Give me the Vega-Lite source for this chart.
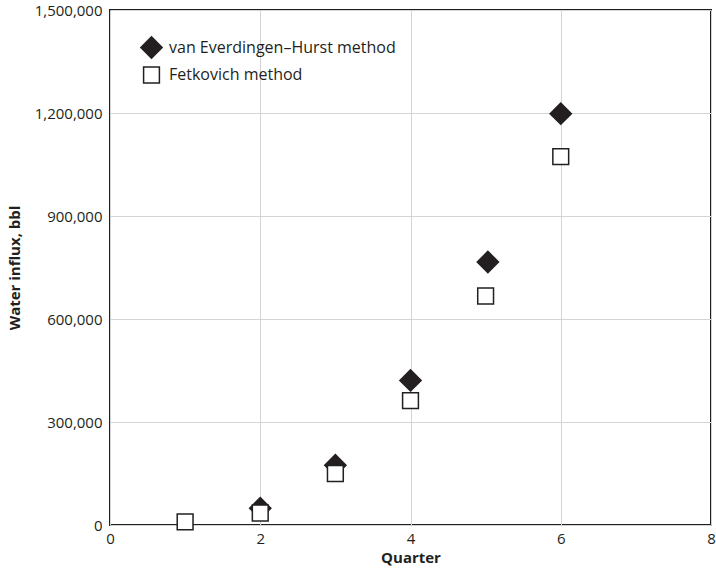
{
  "$schema": "https://vega.github.io/schema/vega-lite/v6.json",
  "width": 601,
  "height": 515,
  "autosize": {"type": "none"},
  "padding": {"left": 110, "top": 10, "right": 5, "bottom": 47},
  "background": "white",
  "config": {
    "font": "Open Sans",
    "view": {"stroke": "#231f20", "strokeWidth": 2},
    "axis": {
      "labelFont": "Open Sans",
      "labelFontSize": 15,
      "labelColor": "#231f20",
      "titleFont": "Open Sans",
      "titleFontSize": 15,
      "titleFontWeight": "bold",
      "titleColor": "#231f20",
      "gridColor": "#d4d4d4",
      "gridWidth": 1,
      "domain": false,
      "ticks": false
    }
  },
  "data": {
    "values": [
      {"quarter": 2, "influx": 49000, "method": "van Everdingen–Hurst method"},
      {"quarter": 3, "influx": 174000, "method": "van Everdingen–Hurst method"},
      {"quarter": 4, "influx": 421000, "method": "van Everdingen–Hurst method"},
      {"quarter": 5.03, "influx": 766000, "method": "van Everdingen–Hurst method"},
      {"quarter": 6, "influx": 1198000, "method": "van Everdingen–Hurst method"},
      {"quarter": 1, "influx": 9000, "method": "Fetkovich method"},
      {"quarter": 2, "influx": 35000, "method": "Fetkovich method"},
      {"quarter": 3, "influx": 150000, "method": "Fetkovich method"},
      {"quarter": 4, "influx": 362000, "method": "Fetkovich method"},
      {"quarter": 5, "influx": 667000, "method": "Fetkovich method"},
      {"quarter": 6, "influx": 1073000, "method": "Fetkovich method"}
    ]
  },
  "mark": {"type": "point", "filled": false, "stroke": "#231f20", "strokeWidth": 1.5, "opacity": 1},
  "encoding": {
    "x": {
      "field": "quarter", "type": "quantitative",
      "scale": {"domain": [0, 8], "nice": false},
      "axis": {"values": [0, 2, 4, 6, 8], "title": "Quarter", "labelPadding": 6, "titlePadding": 4, "labelFlush": false}
    },
    "y": {
      "field": "influx", "type": "quantitative",
      "scale": {"domain": [0, 1500000], "nice": false},
      "axis": {"values": [0, 300000, 600000, 900000, 1200000, 1500000], "format": ",.0f", "title": "Water influx, bbl", "labelPadding": 8, "titlePadding": 12, "labelFlush": false, "labelBaseline": "middle"}
    },
    "shape": {
      "field": "method", "type": "nominal",
      "scale": {"domain": ["van Everdingen–Hurst method", "Fetkovich method"], "range": ["diamond", "square"]},
      "legend": {
        "title": null, "orient": "none", "legendX": 30, "legendY": 26,
        "labelFont": "Open Sans", "labelFontSize": 16, "labelColor": "#231f20", "labelLimit": 400,
        "rowPadding": 2, "symbolStrokeColor": "#231f20", "symbolStrokeWidth": 1.5, "labelOffset": 6
      }
    },
    "fill": {
      "field": "method", "type": "nominal",
      "scale": {"domain": ["van Everdingen–Hurst method", "Fetkovich method"], "range": ["#231f20", "white"]}
    },
    "size": {
      "field": "method", "type": "nominal",
      "scale": {"domain": ["van Everdingen–Hurst method", "Fetkovich method"], "range": [450, 250]}
    }
  }
}
